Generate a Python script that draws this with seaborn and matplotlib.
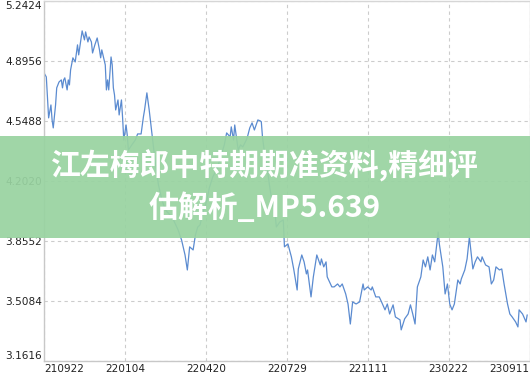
import matplotlib
matplotlib.use("Agg")
import matplotlib.pyplot as plt
from matplotlib.patches import Rectangle
import seaborn as sns
import pandas as pd

# trading-day index and price values
day = [0, 2, 3, 4, 6, 7, 8, 10, 11, 13, 15, 16, 17, 18, 20, 21, 22, 23, 25, 27,
       29, 30, 31, 33, 35, 36, 38, 39, 41, 42, 44, 46, 48, 49, 50, 53, 54, 55, 56, 58,
       59, 60, 61, 62, 64, 65, 67, 68, 69, 71, 72, 73, 76, 79, 81, 84, 86, 87, 89, 91,
       93, 96, 99, 102, 105, 109, 112, 116, 119, 122, 124, 126, 129, 131, 133, 135, 137, 141, 143, 146,
       150, 152, 156, 158, 161, 162, 164, 165, 168, 170, 172, 175, 176, 178, 180, 182, 185, 187, 188, 189,
       191, 193, 195, 197, 200, 201, 204, 207, 208, 211, 214, 216, 219, 220, 223, 225, 227, 228, 231, 233,
       236, 239, 240, 242, 244, 245, 249, 251, 254, 256, 258, 261, 263, 265, 267, 270, 273, 276, 277, 280,
       283, 284, 287, 290, 292, 295, 297, 299, 302, 304, 308, 309, 312, 315, 317, 319, 321, 323, 326, 328,
       330, 332, 334, 336, 338, 341, 342, 345, 347, 349, 351, 353, 355, 358, 360, 361, 364, 366, 368, 371,
       373, 375, 378, 379, 382, 385, 387, 389, 391, 394, 396, 398, 401, 403, 405, 408, 410, 411, 414, 417,
       418]
price = [4.828, 4.804, 4.689, 4.567, 4.642, 4.555, 4.509, 4.642, 4.741, 4.775, 4.787, 4.741, 4.787, 4.799, 4.729, 4.787, 4.758, 4.845, 4.915, 4.891,
         4.990, 4.932, 4.978, 5.071, 5.019, 5.065, 5.007, 5.036, 5.007, 4.943, 4.990, 5.030, 4.961, 4.915, 4.961, 4.874, 4.729, 4.787, 4.729, 4.920,
         4.874, 4.741, 4.700, 4.613, 4.671, 4.584, 4.671, 4.567, 4.439, 4.526, 4.468, 4.381, 4.411, 4.439, 4.474, 4.474, 4.573, 4.613, 4.712, 4.613,
         4.497, 4.324, 4.179, 4.092, 4.034, 4.005, 3.976, 3.918, 3.860, 3.773, 3.686, 3.820, 3.802, 3.889, 3.935, 3.947, 4.005, 4.092, 4.161, 4.225,
         4.277, 4.324, 4.411, 4.480, 4.457, 4.515, 4.439, 4.526, 4.381, 4.411, 4.399, 4.439, 4.457, 4.509, 4.538, 4.497, 4.555, 4.550, 4.544, 4.457,
         4.353, 4.283, 4.179, 4.092, 4.005, 3.935, 3.964, 3.976, 3.820, 3.837, 3.762, 3.692, 3.570, 3.692, 3.773, 3.733, 3.663, 3.686, 3.530, 3.646,
         3.773, 3.715, 3.750, 3.704, 3.733, 3.646, 3.588, 3.588, 3.605, 3.588, 3.605, 3.547, 3.489, 3.373, 3.501, 3.489, 3.501, 3.605, 3.570, 3.588,
         3.570, 3.588, 3.530, 3.530, 3.501, 3.455, 3.489, 3.431, 3.484, 3.414, 3.397, 3.339, 3.403, 3.431, 3.484, 3.431, 3.373, 3.588, 3.646, 3.744,
         3.704, 3.762, 3.686, 3.773, 3.733, 3.906, 3.837, 3.704, 3.547, 3.605, 3.489, 3.455, 3.489, 3.628, 3.605, 3.634, 3.686, 3.750, 3.877, 3.692,
         3.733, 3.762, 3.733, 3.762, 3.715, 3.704, 3.605, 3.628, 3.704, 3.686, 3.692, 3.605, 3.489, 3.431, 3.414, 3.385, 3.356, 3.455, 3.431, 3.385,
         3.426]

x_ticks = [0, 70, 140, 210, 280, 350, 420]
x_labels = ["210922", "220104", "220420", "220729", "221111", "230222", "230911"]
y_ticks = [3.1616, 3.5084, 3.8552, 4.2020, 4.5488, 4.8956, 5.2424]
y_labels = ["3.1616", "3.5084", "3.8552", "4.2020", "4.5488", "4.8956", "5.2424"]

title_line1 = "江左梅郎中特期期准资料,精细评"
title_line2 = "估解析_MP5.639"

sns.set_style("white")
plt.rcParams['font.family'] = ['DejaVu Sans']

df = pd.DataFrame({"day": day, "price": price})

fig = plt.figure(figsize=(5.3, 3.74), dpi=100)
ax = fig.add_axes([44 / 530, 13.5 / 374, 485.5 / 530, 359.2 / 374])

sns.lineplot(data=df, x="day", y="price", ax=ax, color="#5b8bd0", linewidth=0.9)

ax.set_xlim(0, 420)
ax.set_ylim(3.1616, 5.2424)
ax.set_xticks(x_ticks)
ax.set_xticklabels(x_labels)
ax.set_yticks(y_ticks)
ax.set_yticklabels(y_labels)
ax.set_xlabel("")
ax.set_ylabel("")
ax.tick_params(axis="both", length=0, labelsize=7.6, colors="#222222")
ax.tick_params(axis="y", pad=1.5)
ax.tick_params(axis="x", pad=2.5)
xlabs = ax.get_xticklabels()
xlabs[0].set_horizontalalignment("left")
xlabs[-1].set_horizontalalignment("right")
ylabs = ax.get_yticklabels()
ylabs[0].set_verticalalignment("bottom")
ylabs[-1].set_verticalalignment("top")

ax.grid(True, linestyle=(0, (3, 3)), color="#cccccc", linewidth=0.8)
for side, sp in ax.spines.items():
    sp.set_visible(True)
    sp.set_linewidth(1.0)
    sp.set_color("#d6d6d6")
ax.spines["left"].set_color("#c8c8c8")
ax.spines["bottom"].set_color("#c8c8c8")

# green banner overlay
band = Rectangle((0, (374 - 238) / 374), 1, 102 / 374, transform=fig.transFigure,
                 facecolor="#99d3a1", alpha=0.93, edgecolor="none", zorder=5)
fig.patches.append(band)

font_cjk = ["Noto Sans CJK SC", "DejaVu Sans"]
fig.text(0.5, (374 - 166) / 374, title_line1, ha="center", va="center",
         fontsize=21.5, fontweight="bold", color="white", family=font_cjk, zorder=6)
fig.text(0.5, (374 - 208) / 374, title_line2, ha="center", va="center",
         fontsize=21.5, fontweight="bold", color="white", family=font_cjk, zorder=6)

fig.savefig("out.png", dpi=100)
